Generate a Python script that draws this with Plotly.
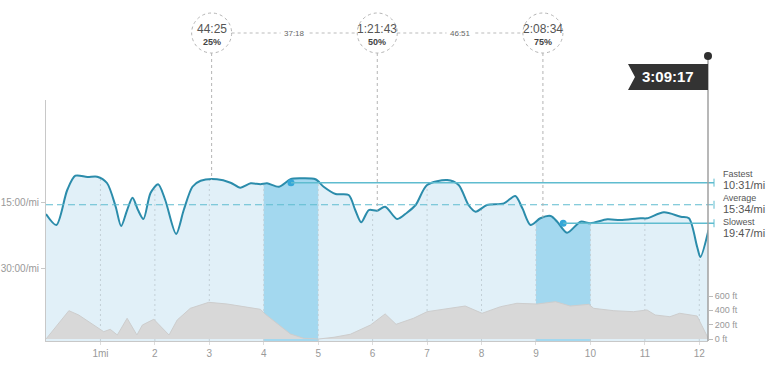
import numpy as np
import plotly.graph_objects as go

# ---------------- data ----------------
pace_miles = [0.00, 0.19, 0.39, 0.54, 0.76, 0.94, 1.12, 1.28, 1.38, 1.49, 1.59, 1.69, 1.79, 1.92,
              2.06, 2.19, 2.39, 2.53, 2.69, 2.84, 3.14, 3.39, 3.57, 3.76, 3.94, 4.06, 4.28, 4.49,
              4.67, 4.95, 5.10, 5.32, 5.56, 5.68, 5.79, 5.93, 6.08, 6.23, 6.45, 6.63, 6.79, 7.00,
              7.37, 7.58, 7.76, 7.89, 8.10, 8.41, 8.62, 8.75, 8.90, 9.08, 9.27, 9.39, 9.57, 9.82,
              10.00, 10.31, 10.55, 10.92, 11.04, 11.35, 11.66, 11.81, 11.96, 12.02, 12.17]
pace_min = [17.67, 20.18, 12.20, 8.94, 9.23, 9.16, 10.60, 16.01, 20.42, 16.77, 13.95, 16.77, 18.82, 12.88,
            10.89, 14.48, 22.24, 16.77, 11.45, 10.08, 9.75, 10.53, 11.67, 10.67, 10.89, 10.67, 11.45, 9.75,
            9.53, 9.75, 11.45, 13.11, 13.34, 16.77, 19.57, 16.77, 16.92, 16.01, 18.82, 17.38, 15.62, 11.06,
            9.92, 11.06, 15.62, 17.15, 15.62, 15.24, 13.57, 16.38, 20.18, 18.65, 18.13, 19.43, 21.95, 19.43,
            19.79, 18.89, 19.04, 18.65, 18.65, 17.29, 18.29, 18.65, 25.14, 27.49, 21.32]

elev_miles = [0.00, 0.42, 0.60, 0.79, 1.00, 1.06, 1.18, 1.31, 1.49, 1.67, 1.77, 1.98, 2.26, 2.41,
              2.65, 2.99, 3.33, 3.57, 3.94, 4.03, 4.25, 4.49, 4.73, 5.01, 5.29, 5.59, 5.96, 6.23,
              6.43, 6.75, 7.00, 7.37, 7.70, 8.01, 8.35, 8.65, 9.02, 9.36, 9.63, 9.97, 10.06, 10.43,
              10.79, 11.04, 11.19, 11.46, 11.64, 11.96, 12.17]
elev_ft = [0, 395, 335, 241, 126, 102, 135, 56, 289, 56, 195, 275, 56, 265,
           428, 512, 488, 460, 414, 345, 219, 70, 10, 0, 24, 66, 195, 350,
           205, 289, 381, 419, 460, 359, 451, 498, 488, 521, 460, 484, 428, 395,
           381, 405, 335, 311, 359, 321, 0]

mile_ticks = [1, 2, 3, 4, 5, 6, 7, 8, 9, 10, 11, 12]
mile_tick_text = ["1mi", "2", "3", "4", "5", "6", "7", "8", "9", "10", "11", "12"]
pace_ticks = [15, 30]
pace_tick_text = ["15:00/mi", "30:00/mi"]
elev_ticks = [0, 200, 400, 600]
elev_tick_text = ["0 ft", "200 ft", "400 ft", "600 ft"]

total_miles = 12.17
total_time = "3:09:17"
quartile_frac = [0.25, 0.50, 0.75]
quartile_times = ["44:25", "1:21:43", "2:08:34"]
quartile_pct = ["25%", "50%", "75%"]
quartile_splits = ["37:18", "46:51"]

fastest_pace = 10 + 31 / 60
average_pace = 15 + 34 / 60
slowest_pace = 19 + 47 / 60
fastest_label = "10:31/mi"
average_label = "15:34/mi"
slowest_label = "19:47/mi"
fastest_mile = 4   # band 4-5
slowest_mile = 9   # band 9-10

# ---------------- geometry ----------------
W, H = 768, 372
PL, PR, PT, PB = 46, 708, 100, 341
X_RANGE = [0, 12.16]
PX_PER_MIN = 4.3815
PACE0_PX = 136.56
pace_bottom = (PB - PACE0_PX) / PX_PER_MIN
pace_top = (PT - PACE0_PX) / PX_PER_MIN
PX_PER_FT = 43 / 600.0
ELEV0_PX = 339.0
elev_range = [(ELEV0_PX - PB) / PX_PER_FT, (ELEV0_PX - PT) / PX_PER_FT]


def py(px):
    return (PB - px) / (PB - PT)


def px_x(px):
    return (px - PL) / (PR - PL)


def mile_x(m):
    return (m - X_RANGE[0]) / (X_RANGE[1] - X_RANGE[0])


def pace_y(p):
    return (pace_bottom - p) / (pace_bottom - pace_top)


pm = np.array(pace_miles)
pv = np.array(pace_min)

LINE = "#2b8cab"
FILL = "#e1f0f8"
BAND = "#a3d8ef"
ACC = "#5fbccf"
GRAY_TXT = "#999999"
FONT = "Liberation Sans, Arial, sans-serif"

fig = go.Figure()

# main fill
fig.add_trace(go.Scatter(x=[0, total_miles], y=[pace_bottom, pace_bottom], mode="lines",
                         line=dict(width=0), hoverinfo="skip", showlegend=False))
fig.add_trace(go.Scatter(x=pace_miles, y=pace_min, mode="lines", fill="tonexty", fillcolor=FILL,
                         line=dict(width=0, shape="spline", smoothing=0.8), hoverinfo="skip",
                         showlegend=False))

# bands
for b in [fastest_mile, slowest_mile]:
    sel = (pm > b) & (pm < b + 1)
    bx = [b] + list(pm[sel]) + [b + 1]
    by = [float(np.interp(b, pm, pv))] + list(pv[sel]) + [float(np.interp(b + 1, pm, pv))]
    fig.add_trace(go.Scatter(x=[b, b + 1], y=[pace_bottom, pace_bottom], mode="lines",
                             line=dict(width=0), hoverinfo="skip", showlegend=False))
    fig.add_trace(go.Scatter(x=bx, y=by, mode="lines", fill="tonexty", fillcolor=BAND,
                             line=dict(width=0, shape="spline", smoothing=0.8),
                             hoverinfo="skip", showlegend=False))

# mile gridlines (below curve)
gx, gy = [], []
for m in mile_ticks:
    gx += [m, m, None]
    gy += [pace_bottom, float(np.interp(m, pm, pv)), None]
fig.add_trace(go.Scatter(x=gx, y=gy, mode="lines",
                         line=dict(color="#c2cfd6", width=1, dash="2px,3px"),
                         hoverinfo="skip", showlegend=False))

# elevation
fig.add_trace(go.Scatter(x=elev_miles, y=elev_ft, yaxis="y2", mode="lines", fill="tozeroy",
                         fillcolor="#d8d8d8", line=dict(color="#cdcdcd", width=1),
                         hoverinfo="skip", showlegend=False))

# pace line
fig.add_trace(go.Scatter(x=pace_miles, y=pace_min, mode="lines",
                         line=dict(color=LINE, width=2, shape="spline", smoothing=0.8),
                         hoverinfo="skip", showlegend=False))

# fastest / slowest dots
fig.add_trace(go.Scatter(x=[fastest_mile + 0.5, slowest_mile + 0.5], y=[fastest_pace, slowest_pace],
                         mode="markers", marker=dict(color="#35a7d8", size=7), cliponaxis=False,
                         hoverinfo="skip", showlegend=False))

shapes = []
annotations = []

# fastest / average / slowest reference lines
line_end = px_x(714)
shapes.append(dict(type="line", xref="paper", yref="paper", x0=mile_x(fastest_mile + 0.5), x1=line_end,
                   y0=pace_y(fastest_pace), y1=pace_y(fastest_pace), line=dict(color=ACC, width=1.5)))
shapes.append(dict(type="line", xref="paper", yref="paper", x0=0, x1=line_end,
                   y0=pace_y(average_pace), y1=pace_y(average_pace),
                   line=dict(color=ACC, width=1.2, dash="7px,4px")))
shapes.append(dict(type="line", xref="paper", yref="paper", x0=mile_x(slowest_mile + 0.5), x1=line_end,
                   y0=pace_y(slowest_pace), y1=pace_y(slowest_pace), line=dict(color=ACC, width=1.5)))
for p in [fastest_pace, average_pace, slowest_pace]:
    shapes.append(dict(type="line", xref="paper", yref="paper", x0=line_end, x1=line_end,
                       y0=pace_y(p) - 4 / (PB - PT), y1=pace_y(p) + 4 / (PB - PT),
                       line=dict(color=ACC, width=1)))

label_x = px_x(721)
for name, val, ny, vy in [("Fastest", fastest_label, 174, 185),
                          ("Average", average_label, 198, 209),
                          ("Slowest", slowest_label, 222, 233)]:
    annotations.append(dict(text=name, xref="paper", yref="paper", x=label_x, y=py(ny),
                            xanchor="left", yanchor="middle", showarrow=False,
                            font=dict(family=FONT, size=9, color="#555555")))
    annotations.append(dict(text=val, xref="paper", yref="paper", x=label_x, y=py(vy),
                            xanchor="left", yanchor="middle", showarrow=False,
                            font=dict(family=FONT, size=11, color="#555555")))

# quartile circles
CY = 33
R = 20
qm = [total_miles * f for f in quartile_frac]
for i, m in enumerate(qm):
    xc = mile_x(m)
    shapes.append(dict(type="circle", xref="paper", yref="paper", xsizemode="pixel", ysizemode="pixel",
                       xanchor=xc, yanchor=py(CY), x0=-R, x1=R, y0=-R, y1=R,
                       line=dict(color="#b4b4b4", width=1, dash="3px,3px")))
    p = float(np.interp(m, pm, pv))
    shapes.append(dict(type="line", xref="paper", yref="paper", x0=xc, x1=xc,
                       y0=py(CY + R), y1=pace_y(p), line=dict(color="#b4b4b4", width=1, dash="3px,3px")))
    annotations.append(dict(text=quartile_times[i], xref="paper", yref="paper", x=xc, y=py(CY - 4),
                            xanchor="center", yanchor="middle", showarrow=False,
                            font=dict(family=FONT, size=12, color="#555555")))
    annotations.append(dict(text="<b>" + quartile_pct[i] + "</b>", xref="paper", yref="paper", x=xc,
                            y=py(CY + 9), xanchor="center", yanchor="middle", showarrow=False,
                            font=dict(family=FONT, size=9, color="#444444")))
for i in range(len(qm) - 1):
    x0 = mile_x(qm[i]) + R / (PR - PL)
    x1 = mile_x(qm[i + 1]) - R / (PR - PL)
    shapes.append(dict(type="line", xref="paper", yref="paper", x0=x0, x1=x1, y0=py(CY), y1=py(CY),
                       line=dict(color="#bbbbbb", width=1, dash="3px,3px")))
    annotations.append(dict(text=quartile_splits[i], xref="paper", yref="paper", x=(x0 + x1) / 2,
                            y=py(CY), xanchor="center", yanchor="middle", showarrow=False,
                            bgcolor="white", borderpad=3,
                            font=dict(family=FONT, size=8, color="#666666")))

# finish flag
shapes.append(dict(type="line", xref="paper", yref="paper", x0=1, x1=1, y0=0, y1=py(56),
                   line=dict(color="#a0a0a0", width=1.5)))
shapes.append(dict(type="circle", xref="paper", yref="paper", xsizemode="pixel", ysizemode="pixel",
                   xanchor=1, yanchor=py(56), x0=-4, x1=4, y0=-4, y1=4,
                   fillcolor="#2f2f2f", line=dict(width=0)))
fx = [px_x(628), 1, 1, px_x(628), px_x(635)]
fy = [py(64), py(64), py(90), py(90), py(77)]
path = "M {} {} L {} {} L {} {} L {} {} L {} {} Z".format(fx[0], fy[0], fx[1], fy[1], fx[2], fy[2],
                                                       fx[3], fy[3], fx[4], fy[4])
shapes.append(dict(type="path", xref="paper", yref="paper", path=path, fillcolor="#333333",
                   line=dict(width=0)))
annotations.append(dict(text="<b>" + total_time + "</b>", xref="paper", yref="paper", x=px_x(668),
                        y=py(77), xanchor="center", yanchor="middle", showarrow=False,
                        font=dict(family=FONT, size=15, color="white")))

fig.update_layout(
    width=W, height=H,
    margin=dict(l=PL, r=W - PR, t=PT, b=H - PB, autoexpand=False),
    paper_bgcolor="white", plot_bgcolor="white",
    shapes=shapes, annotations=annotations,
    xaxis=dict(range=X_RANGE, tickvals=mile_ticks, ticktext=mile_tick_text, showgrid=False,
               zeroline=False, showline=True, linecolor="#c8c8c8", linewidth=1, automargin=False,
               ticks="outside", ticklen=3, tickcolor="#dddddd",
               tickfont=dict(family=FONT, size=10, color=GRAY_TXT)),
    yaxis=dict(range=[pace_bottom, pace_top], tickvals=pace_ticks, ticktext=pace_tick_text,
               showgrid=False, zeroline=False, showline=True, linecolor="#c8c8c8", linewidth=1,
               automargin=False, ticks="outside", ticklen=4, tickcolor="#c8c8c8",
               tickfont=dict(family=FONT, size=10, color=GRAY_TXT)),
    yaxis2=dict(range=elev_range, overlaying="y", side="right", tickvals=elev_ticks,
                ticktext=elev_tick_text, showgrid=False, zeroline=False, showline=False,
                automargin=False, ticks="outside", ticklen=4, tickcolor="#bbbbbb",
                tickfont=dict(family=FONT, size=9, color=GRAY_TXT)),
)

fig.write_html("out.html", config={"displayModeBar": False},
               post_script="document.body.style.margin='0';")
